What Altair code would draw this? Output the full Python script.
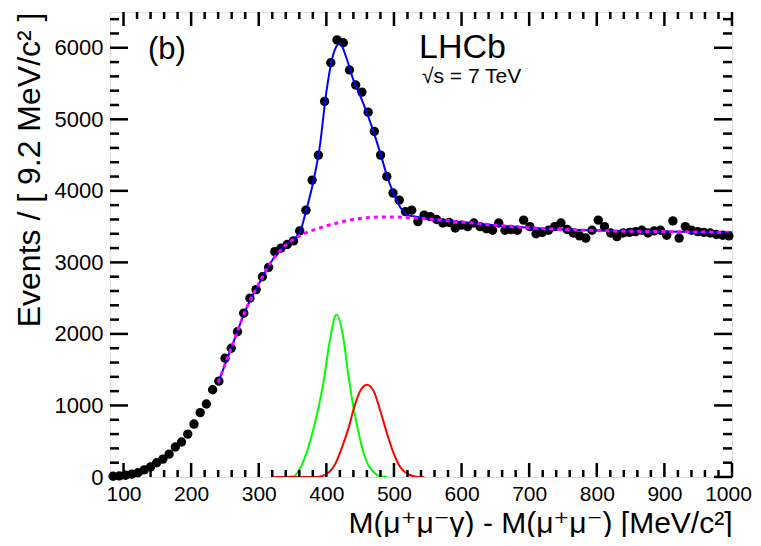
import altair as alt
import pandas as pd

# ---------------- data ----------------
BIN_LO = 80.0
BIN_W = 9.2
events = [10, 15, 25, 40, 60, 100, 140, 200, 250, 320,
          420, 490, 600, 740, 900, 1020, 1220, 1340, 1660, 1800,
          2030, 2290, 2500, 2620, 2800, 2930, 3150, 3200, 3250, 3300,
          3440, 3730, 4150, 4500, 5250, 5790, 6110, 6070, 5690, 5480,
          5380, 5100, 4830, 4500, 4200, 3970, 3870, 3710, 3730, 3570,
          3660, 3640, 3600, 3550, 3560, 3480, 3520, 3500, 3550, 3500,
          3470, 3450, 3550, 3450, 3460, 3450, 3590, 3500, 3400, 3420,
          3450, 3500, 3550, 3460, 3410, 3370, 3340, 3450, 3590, 3500,
          3410, 3360, 3410, 3420, 3430, 3450, 3410, 3440, 3450, 3380,
          3580, 3340, 3500, 3450, 3430, 3420, 3410, 3390, 3380, 3370]
mass = [round(BIN_LO + BIN_W * (i + 0.5), 2) for i in range(len(events))]

total_x = [240, 260, 280, 300, 320, 340, 355, 362, 370, 380, 390, 400, 410, 420,
           430, 440, 450, 460, 470, 480, 490, 500, 510, 520, 535, 560, 600, 650,
           700, 750, 800, 850, 900, 950, 1000]
total_y = [1320, 1820, 2320, 2700, 3030, 3250, 3350, 3450, 3720, 4100, 4600, 5380, 5900, 6060,
           5850, 5550, 5330, 5090, 4820, 4520, 4200, 3950, 3760, 3665, 3635, 3600, 3565, 3520,
           3485, 3460, 3445, 3435, 3430, 3425, 3420]

bkg_x = [240, 260, 280, 300, 320, 340, 360, 380, 400, 420, 440, 460, 480, 500,
         520, 560, 600, 650, 700, 750, 800, 850, 900, 950, 1000]
bkg_y = [1320, 1820, 2320, 2700, 3030, 3240, 3370, 3450, 3510, 3560, 3600, 3625, 3635, 3635,
         3625, 3600, 3565, 3520, 3485, 3460, 3445, 3435, 3430, 3425, 3420]

green_x = [340, 352, 361, 366, 376, 386, 396, 405, 415, 425, 433, 443, 453, 463, 469, 478, 490]
green_y = [0, 10, 120, 220, 500, 870, 1340, 1900, 2270, 1950, 1390, 830, 410, 150, 80, 15, 0]

red_x = [320, 387, 401, 413, 423, 433, 441, 450, 460, 470, 480, 490, 500, 510, 522, 536, 545]
red_y = [0, 0, 45, 180, 410, 690, 970, 1200, 1290, 1200, 920, 600, 320, 130, 35, 0, 0]

x_major = [100, 200, 300, 400, 500, 600, 700, 800, 900, 1000]
x_minor = [v for v in range(100, 1000, 20) if v % 100 != 0]
y_major = [0, 1000, 2000, 3000, 4000, 5000, 6000]
y_minor = [v for v in range(200, 6500, 200) if v % 1000 != 0]

X_TITLE = "M(μ⁺μ⁻γ) - M(μ⁺μ⁻) [MeV/c²]"
Y_TITLE = "Events / [ 9.2 MeV/c² ]"

# ---------------- layout / style ----------------
W, H = 622, 465
FONT = "Liberation Sans, Arial, Helvetica, DejaVu Sans"

xs = alt.Scale(domain=[80, 1000], nice=False, zero=False)
ys = alt.Scale(domain=[0, 6500], nice=False, zero=False)

xaxis = alt.Axis(values=x_major, format="d", ticks=False, domain=False, grid=False,
                 labelFontSize=21, labelFont=FONT, labelColor="black", labelPadding=6,
                 labelFlush=False, labelOverlap=False,
                 labelOffset={"expr": "datum.value >= 1000 ? -4 : 0"},
                 title=X_TITLE, titleFont=FONT, titleFontSize=30, titleFontWeight="normal",
                 titleColor="black", titleAnchor="end", titleAlign="right",
                 titleX=W, titleY=55, titleBaseline="alphabetic")
yaxis = alt.Axis(values=y_major, format="d", ticks=False, domain=False, grid=False,
                 labelFontSize=22, labelFont=FONT, labelColor="black", labelPadding=7,
                 labelFlush=False, labelOverlap=False,
                 title=Y_TITLE, titleFont=FONT, titleFontSize=32, titleFontWeight="normal",
                 titleColor="black", titleAngle=270, titleAlign="right",
                 titleX=-81, titleY=0, titleBaseline="middle")


def X(field):
    return alt.X(field, type="quantitative", scale=xs, axis=xaxis)


def Y(field):
    return alt.Y(field, type="quantitative", scale=ys, axis=yaxis)


pts = pd.DataFrame({"m": mass, "n": events})
points = alt.Chart(pts).mark_circle(size=88, color="black", opacity=1).encode(x=X("m"), y=Y("n"))


def curve(xv, yv, color, width, dash=None):
    df = pd.DataFrame({"m": xv, "n": yv})
    kw = dict(color=color, strokeWidth=width, interpolate="monotone", clip=True)
    if dash:
        kw["strokeDash"] = dash
    return alt.Chart(df).mark_line(**kw).encode(x=X("m"), y=Y("n"))


green = curve(green_x, green_y, "#00ff00", 2)
red = curve(red_x, red_y, "#ff0000", 2)
blue = curve(total_x, total_y, "#0000ff", 2)
magenta = curve(bkg_x, bkg_y, "#ff00ff", 3, [4, 4])


def xticks(vals, length):
    df = pd.DataFrame({"m": vals})
    bot = alt.Chart(df).mark_rule(color="black", strokeWidth=2.5).encode(
        x=X("m"), y=alt.value(H), y2=alt.value(H - length))
    top = alt.Chart(df).mark_rule(color="black", strokeWidth=2.5).encode(
        x=X("m"), y=alt.value(0), y2=alt.value(length))
    return bot + top


def yticks(vals, length):
    df = pd.DataFrame({"n": vals})
    left = alt.Chart(df).mark_rule(color="black", strokeWidth=2.5).encode(
        y=Y("n"), x=alt.value(0), x2=alt.value(length))
    right = alt.Chart(df).mark_rule(color="black", strokeWidth=2.5).encode(
        y=Y("n"), x=alt.value(W), x2=alt.value(W - length))
    return left + right


ticks = xticks(x_major, 14) + xticks(x_minor, 7) + yticks(y_major, 18) + yticks(y_minor, 9)


def label(txt, px, py, size):
    df = pd.DataFrame({"t": [txt]})
    return alt.Chart(df).mark_text(align="left", baseline="middle", font=FONT,
                                   fontSize=size, color="black").encode(
        text="t:N", x=alt.value(px), y=alt.value(py))


texts = (label("(b)", 38, 38, 31) + label("LHCb", 309, 36, 34)
         + label("√s = 7 TeV", 312, 65, 21))

chart = alt.layer(points, green, red, blue, magenta, ticks, texts).properties(
    width=W, height=H,
    autosize=alt.AutoSizeParams(type="none"),
    padding={"left": 102, "top": 4, "right": 21, "bottom": 60},
).configure_view(stroke="black", strokeWidth=2.5).configure(background="white")

chart.save("out.html", embed_options={"renderer": "svg", "actions": False})
